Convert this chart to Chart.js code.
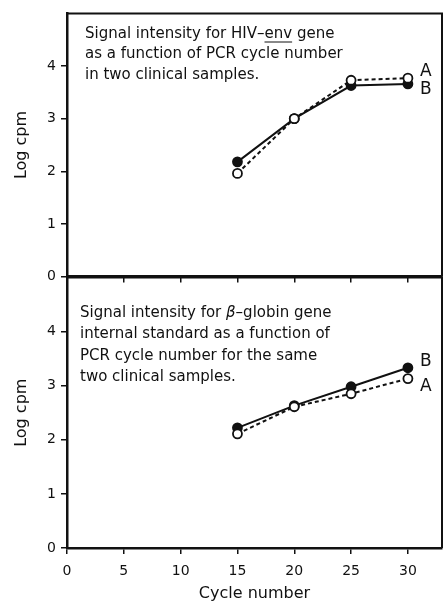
<!DOCTYPE html>
<html>
<head>
<meta charset="utf-8">
<script src="https://cdn.jsdelivr.net/npm/chart.js@4/dist/chart.umd.min.js"></script>
<style>
  html, body { margin: 0; padding: 0; background: #fff; }
  #wrap { position: relative; width: 443px; height: 603px; overflow: hidden; }
  canvas { position: absolute; left: 0; }
  #chart-env { top: 0; }
  #chart-globin { top: 264px; }
</style>
</head>
<body>
<div id="wrap">
  <canvas id="chart-env" width="443" height="290"></canvas>
  <canvas id="chart-globin" width="443" height="339"></canvas>
</div>
<script>
// data
const cycles = [15, 20, 25, 30];
const envA = [1.96, 3.0, 3.73, 3.77];
const envB = [2.18, 3.0, 3.63, 3.66];
const globinA = [2.11, 2.61, 2.85, 3.13];
const globinB = [2.22, 2.63, 2.98, 3.33];
const xTicks = [0, 5, 10, 15, 20, 25, 30];
const yTicks = [0, 1, 2, 3, 4];

const FONT = "'DejaVu Sans', sans-serif";
const INK = '#111';

// frame, caption text and A/B labels
const panelDecor = {
  id: 'panelDecor',
  afterDatasetsDraw(chart, args, opts) {
    const { ctx, chartArea: a } = chart;
    ctx.save();
    ctx.strokeStyle = INK;
    ctx.lineWidth = 2;
    ctx.beginPath();
    ctx.moveTo(a.left, a.top);
    ctx.lineTo(a.right, a.top);
    ctx.lineTo(a.right, a.bottom);
    ctx.stroke();

    ctx.fillStyle = INK;
    ctx.textBaseline = 'middle';
    opts.notes.forEach((line, i) => {
      let x = opts.noteX;
      const y = opts.noteY + i * opts.noteGap;
      line.forEach(seg => {
        ctx.font = (seg.i ? 'italic ' : '') + opts.noteFont;
        ctx.fillText(seg.t, x, y);
        const w = ctx.measureText(seg.t).width;
        if (seg.u) {
          ctx.lineWidth = 1;
          ctx.beginPath();
          ctx.moveTo(x, y + 8);
          ctx.lineTo(x + w, y + 8);
          ctx.stroke();
        }
        x += w;
      });
    });

    ctx.font = opts.labelFont;
    chart.data.datasets.forEach((ds, i) => {
      const meta = chart.getDatasetMeta(i);
      const pt = meta.data[meta.data.length - 1];
      ctx.fillText(ds.label, pt.x + 12, pt.y + opts.labelDy[i]);
    });
    ctx.restore();
  }
};

function series(label, values, open) {
  return {
    label: label,
    data: cycles.map((c, i) => ({ x: c, y: values[i] })),
    showLine: true,
    borderColor: INK,
    borderWidth: 2,
    borderDash: open ? [4, 3] : [],
    pointRadius: 4.5,
    pointBorderWidth: 1.8,
    pointBorderColor: INK,
    pointBackgroundColor: open ? '#fff' : INK
  };
}

function makePanel(id, seriesA, seriesB, opts) {
  new Chart(document.getElementById(id), {
    type: 'scatter',
    data: {
      datasets: [series('A', seriesA, true), series('B', seriesB, false)]
    },
    options: {
      responsive: false,
      animation: false,
      layout: { autoPadding: false, padding: { top: opts.padTop, right: 1, left: 0, bottom: 0 } },
      plugins: {
        legend: { display: false },
        tooltip: { enabled: false },
        panelDecor: opts.decor
      },
      scales: {
        x: {
          type: 'linear',
          min: 0,
          max: 33,
          afterBuildTicks: s => { s.ticks = xTicks.map(v => ({ value: v })); },
          afterFit: s => { s.height = opts.xHeight; },
          border: { display: true, color: INK, width: 2.5 },
          grid: { drawOnChartArea: false, drawTicks: true, tickLength: 6, color: INK, lineWidth: 1.5 },
          ticks: { display: opts.showX, color: INK, padding: 9, font: { family: FONT, size: 14 } },
          title: { display: opts.showX, text: 'Cycle number', color: INK, padding: { top: 2, bottom: 0 }, font: { family: FONT, size: 16 } }
        },
        y: {
          min: 0,
          max: 5,
          afterBuildTicks: s => { s.ticks = yTicks.map(v => ({ value: v })); },
          afterFit: s => { s.width = 67; },
          border: { display: true, color: INK, width: 2.5 },
          grid: { drawOnChartArea: false, drawTicks: true, tickLength: 6, color: INK, lineWidth: 1.5 },
          ticks: { color: INK, padding: 5, font: { family: FONT, size: 14 } },
          title: { display: true, text: 'Log cpm', color: INK, padding: { top: 12, bottom: 0 }, font: { family: FONT, size: 16 } }
        }
      }
    },
    plugins: [panelDecor]
  });
}

makePanel('chart-env', envA, envB, {
  padTop: 12, xHeight: 13, showX: false,
  decor: {
    noteX: 85, noteY: 34, noteGap: 20.5,
    noteFont: '15px ' + FONT,
    notes: [
      [{ t: 'Signal intensity for HIV\u2013' }, { t: 'env', u: true }, { t: ' gene' }],
      [{ t: 'as a function of PCR cycle number' }],
      [{ t: 'in two clinical samples.' }]
    ],
    labelFont: '17px ' + FONT,
    labelDy: [-7, 6]
  }
});

makePanel('chart-globin', globinA, globinB, {
  padTop: 13, xHeight: 55, showX: true,
  decor: {
    noteX: 80, noteY: 49, noteGap: 21.5,
    noteFont: '15px ' + FONT,
    notes: [
      [{ t: 'Signal intensity for ' }, { t: '\u03B2', i: true }, { t: '\u2013globin gene' }],
      [{ t: 'internal standard as a function of' }],
      [{ t: 'PCR cycle number for the same' }],
      [{ t: 'two clinical samples.' }]
    ],
    labelFont: '17px ' + FONT,
    labelDy: [8, -6]
  }
});
</script>
</body>
</html>
